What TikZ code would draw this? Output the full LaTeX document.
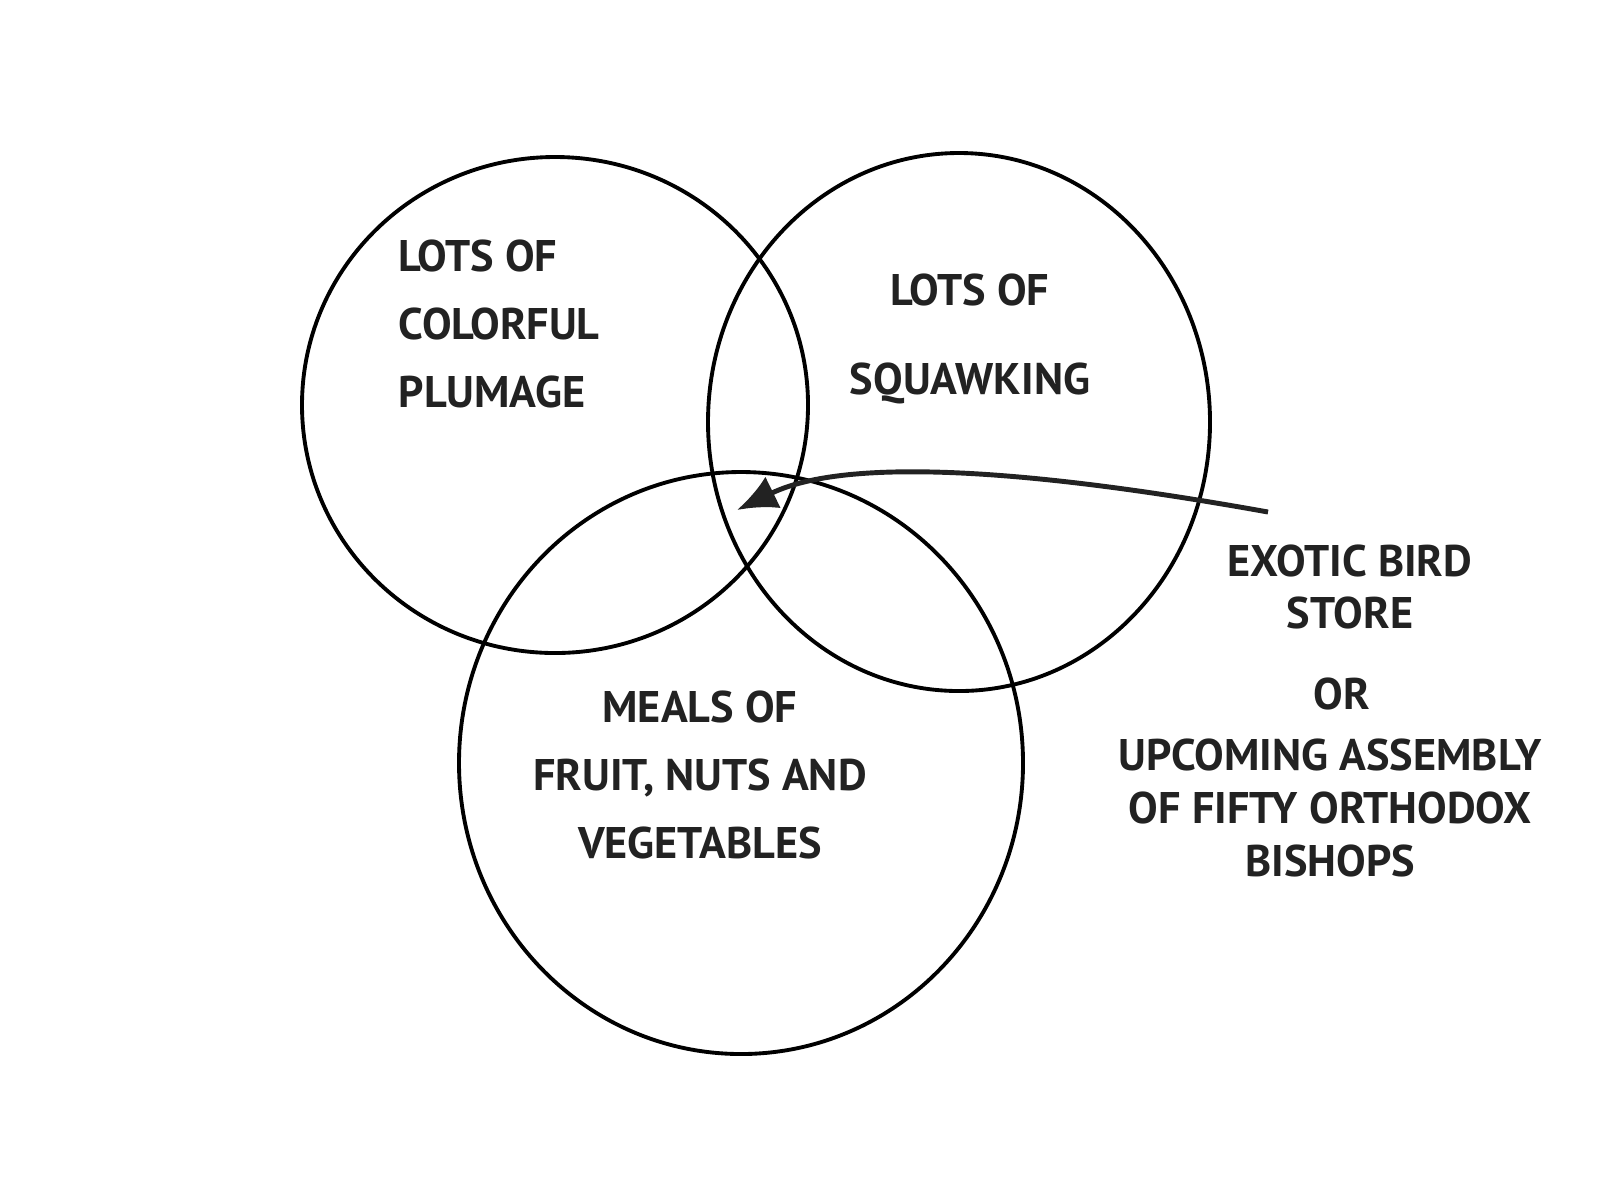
\documentclass[tikz,border=0pt]{standalone}
\usepackage{fontspec}
\setmainfont{PT Sans}
\usepackage{xcolor}
\usetikzlibrary{arrows.meta,positioning,shapes.geometric}

\definecolor{ink}{HTML}{222222}

\begin{document}
\begin{tikzpicture}[>=Latex,
  ring/.style={draw,ellipse,line width=1.1pt,inner sep=0pt},
  scrawl/.style={text=ink,font=\bfseries\fontsize{12.6}{18}\selectfont,inner sep=0pt}]
  \useasboundingbox[fill=white] (0,0) rectangle (16,-12);
  % the three sets
  \node[ring,minimum width=5.06cm,minimum height=4.96cm] (plumage) at (5.55,-4.05) {};
  \node[ring,minimum width=5.02cm,minimum height=5.38cm] (squawk) at (9.59,-4.22) {};
  \node[ring,minimum width=5.64cm,minimum height=5.82cm] (meals) at (7.41,-7.63) {};
  % set labels
  \node[scrawl,align=left,anchor=west,font=\bfseries\fontsize{12.6}{19.3}\selectfont] (plumagetxt) at (3.98,-3.24)
    {LOTS OF\\COLORFUL\\PLUMAGE};
  \node[scrawl,align=center,font=\bfseries\fontsize{12.6}{25.5}\selectfont] (squawktxt) at (9.7,-3.39)
    {LOTS OF\\SQUAWKING};
  \node[scrawl,align=center,font=\bfseries\fontsize{12.6}{19.3}\selectfont] (mealstxt) at (7.0,-7.75)
    {MEALS OF\\FRUIT, NUTS AND\\VEGETABLES};
  % answer on the right
  \node[scrawl,align=center,font=\bfseries\fontsize{12.6}{15}\selectfont] (store) at (13.5,-5.87)
    {EXOTIC BIRD\\STORE};
  \node[scrawl] (or) at (13.42,-6.94) {OR};
  \node[scrawl,align=center,font=\bfseries\fontsize{12.6}{15}\selectfont] (bishops) at (13.3,-8.08)
    {UPCOMING ASSEMBLY\\OF FIFTY ORTHODOX\\BISHOPS};
  \coordinate (tail) at (12.68,-5.12);
  \coordinate (tip) at (7.37,-5.10);
  \draw[ink,line width=1.4pt,-{Latex[length=4mm,width=3.5mm]}] (tail)
    .. controls (10.9,-4.8) and (8.6,-4.5) .. (tip);
\end{tikzpicture}
\end{document}
